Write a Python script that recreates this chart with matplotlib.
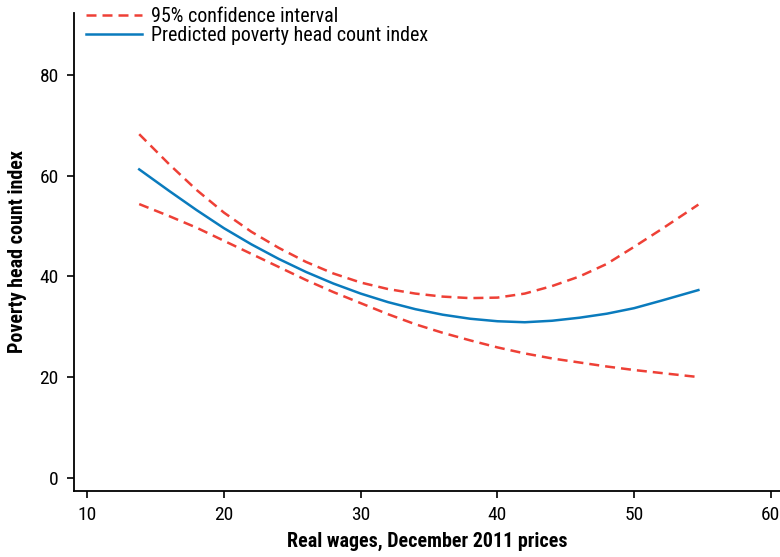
import matplotlib
matplotlib.use("Agg")
import matplotlib.pyplot as plt

# Real wages (December 2011 prices) at which the fitted curve is read
wages = [13.8, 16, 18, 20, 22, 24, 26, 28, 30, 32, 34, 36, 38, 40, 42, 44, 46, 48, 50, 52, 54.7]
# Predicted poverty head count index
predicted = [61.3, 57.0, 53.2, 49.6, 46.4, 43.5, 40.9, 38.6, 36.6, 34.9, 33.5, 32.4,
             31.6, 31.1, 30.9, 31.2, 31.8, 32.6, 33.7, 35.2, 37.3]
# 95% confidence interval bounds
ci_upper = [68.3, 62.3, 57.2, 52.7, 48.9, 45.7, 42.9, 40.6, 38.8, 37.5, 36.6, 36.0,
            35.7, 35.8, 36.6, 38.1, 40.0, 42.5, 45.9, 49.4, 54.3]
ci_lower = [54.4, 52.0, 49.7, 47.1, 44.5, 41.9, 39.3, 36.9, 34.7, 32.5, 30.5, 28.8,
            27.3, 25.9, 24.7, 23.7, 22.9, 22.1, 21.4, 20.8, 20.0]

x_ticks = [10, 20, 30, 40, 50, 60]
y_ticks = [0, 20, 40, 60, 80]

RED = "#EE4036"
BLUE = "#0A7BBD"

plt.rcParams["font.family"] = ["Roboto Condensed", "Archivo Narrow", "DejaVu Sans"]

fig = plt.figure(figsize=(7.8, 5.57), dpi=100)
ax = fig.add_axes([74 / 780, (557 - 490.7) / 557, 1 - 74 / 780, (490.7 - 13) / 557])

ax.plot(wages, ci_upper, color=RED, lw=1.8, dashes=(4, 2.4), label="95% confidence interval")
ax.plot(wages, predicted, color=BLUE, lw=1.8, label="Predicted poverty head count index")
ax.plot(wages, ci_lower, color=RED, lw=1.8, dashes=(4, 2.4))

ax.set_xlim(9.03, 60.67)
ax.set_ylim(-2.6, 92.4)
ax.set_xticks(x_ticks)
ax.set_yticks(y_ticks)
ax.tick_params(labelsize=14, length=5, width=1.2, pad=6)
for side in ("top", "right"):
    ax.spines[side].set_visible(False)
for side in ("left", "bottom"):
    ax.spines[side].set_linewidth(1.3)

ax.set_xlabel("Real wages, December 2011 prices", fontsize=14.4, fontweight="bold", labelpad=6)
ax.set_ylabel("Poverty head count index", fontsize=14.4, fontweight="bold", labelpad=9)

ax.legend(loc="upper left", bbox_to_anchor=(86 / 780, 1 - 7 / 557),
          bbox_transform=fig.transFigure, frameon=False, fontsize=14.4,
          handlelength=2.8, handletextpad=0.45, labelspacing=0.02, borderpad=0,
          borderaxespad=0)

fig.savefig("out.png", dpi=100)
